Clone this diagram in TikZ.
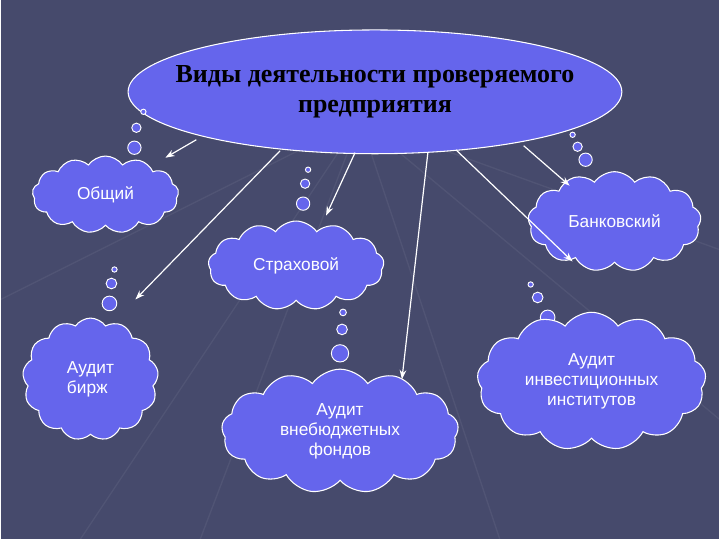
\documentclass[tikz,border=0pt]{standalone}
\usepackage{fontspec}
\setmainfont{Liberation Sans}
\newfontfamily\titlefont{Liberation Serif}
\usetikzlibrary{shapes.symbols,shapes.geometric,arrows.meta}
\definecolor{bg}{HTML}{464A6C}
\definecolor{cl}{HTML}{6565EC}
\tikzset{
 cloudbox/.style={cloud, cloud puffs=13, cloud puff arc=110, aspect=1.6, draw=white, line width=0.8pt, fill=cl, text=white, font=\fontsize{13}{15}\selectfont, align=center, inner sep=0pt},
 bub/.style={circle, draw=white, fill=cl, line width=0.7pt, inner sep=0pt},
 arr/.style={draw=white, line width=0.9pt, -{Stealth[length=7pt,width=5pt]}}
}
\begin{document}
\begin{tikzpicture}[x=0.75pt,y=-0.75pt]
\fill[bg] (0,0) rectangle (720,540);
\foreach \a/\b in {0/300,80/540,200/540,720/420,720/250,500/540}{\draw[white,opacity=0.06,line width=1pt] (360,120) -- (\a,\b);}
\useasboundingbox (0,0) rectangle (720,540);
\node[ellipse, draw=white, line width=0.8pt, fill=cl, minimum width=371pt, minimum height=93pt, inner sep=0pt] (t) at (375,92) {};
\node[align=center, font=\titlefont\bfseries\fontsize{19.5}{22}\selectfont] (tt) at (t.center) {Виды деятельности проверяемого\\предприятия};
\node[bub,minimum size=4pt] (b1) at (143,112) {};
\node[bub,minimum size=7pt] (b2) at (136,128) {};
\node[bub,minimum size=10pt] (b3) at (134,148) {};
\node[bub,minimum size=4pt] (b4) at (573,135) {};
\node[bub,minimum size=7pt] (b5) at (578,147) {};
\node[bub,minimum size=10pt] (b6) at (586,160) {};
\node[bub,minimum size=4pt] (b7) at (308,170) {};
\node[bub,minimum size=7pt] (b8) at (305,184) {};
\node[bub,minimum size=10pt] (b9) at (303,204) {};
\node[bub,minimum size=4pt] (c1) at (114,270) {};
\node[bub,minimum size=8pt] (c2) at (111,284) {};
\node[bub,minimum size=11pt] (c3) at (109,304) {};
\node[bub,minimum size=5pt] (d1) at (343,313) {};
\node[bub,minimum size=8pt] (d2) at (342,330) {};
\node[bub,minimum size=13pt] (d3) at (340,354) {};
\node[bub,minimum size=4pt] (e1) at (531,285) {};
\node[bub,minimum size=8pt] (e2) at (538,298) {};
\node[bub,minimum size=11pt] (e3) at (548,318) {};
\node[cloudbox, minimum width=110pt, minimum height=58pt] (n1) at (105,195) {Общий};
\node[cloudbox, minimum width=130pt, minimum height=75pt] (n2) at (615,222) {Банковский};
\node[cloudbox, minimum width=132pt, minimum height=62pt] (n3) at (296,266) {Страховой};
\node[cloudbox, minimum width=102pt, minimum height=92pt, aspect=1.1, align=left] (n4) at (90,380) {Аудит\\бирж};
\node[cloudbox, minimum width=178pt, minimum height=88pt] (n5) at (340,432) {Аудит\\внебюджетных\\фондов};
\node[cloudbox, minimum width=172pt, minimum height=82pt] (n6) at (592,382) {Аудит\\инвестиционных\\институтов};
\coordinate (s6) at (196,140); \coordinate (e6) at (165,158);
\coordinate (s7) at (280,151); \coordinate (e7) at (135,300);
\coordinate (s8) at (355,153); \coordinate (e8) at (326,216);
\coordinate (s9) at (428,153); \coordinate (e9) at (402,380);
\coordinate (s10) at (524,146); \coordinate (e10) at (570,186);
\coordinate (s11) at (456,150); \coordinate (e11) at (573,262);
\draw[arr] (s6) -- (e6);
\draw[arr] (s7) -- (e7);
\draw[arr] (s8) -- (e8);
\draw[arr] (s9) -- (e9);
\draw[arr] (s10) -- (e10);
\draw[arr] (s11) -- (e11);
\end{tikzpicture}
\end{document}
